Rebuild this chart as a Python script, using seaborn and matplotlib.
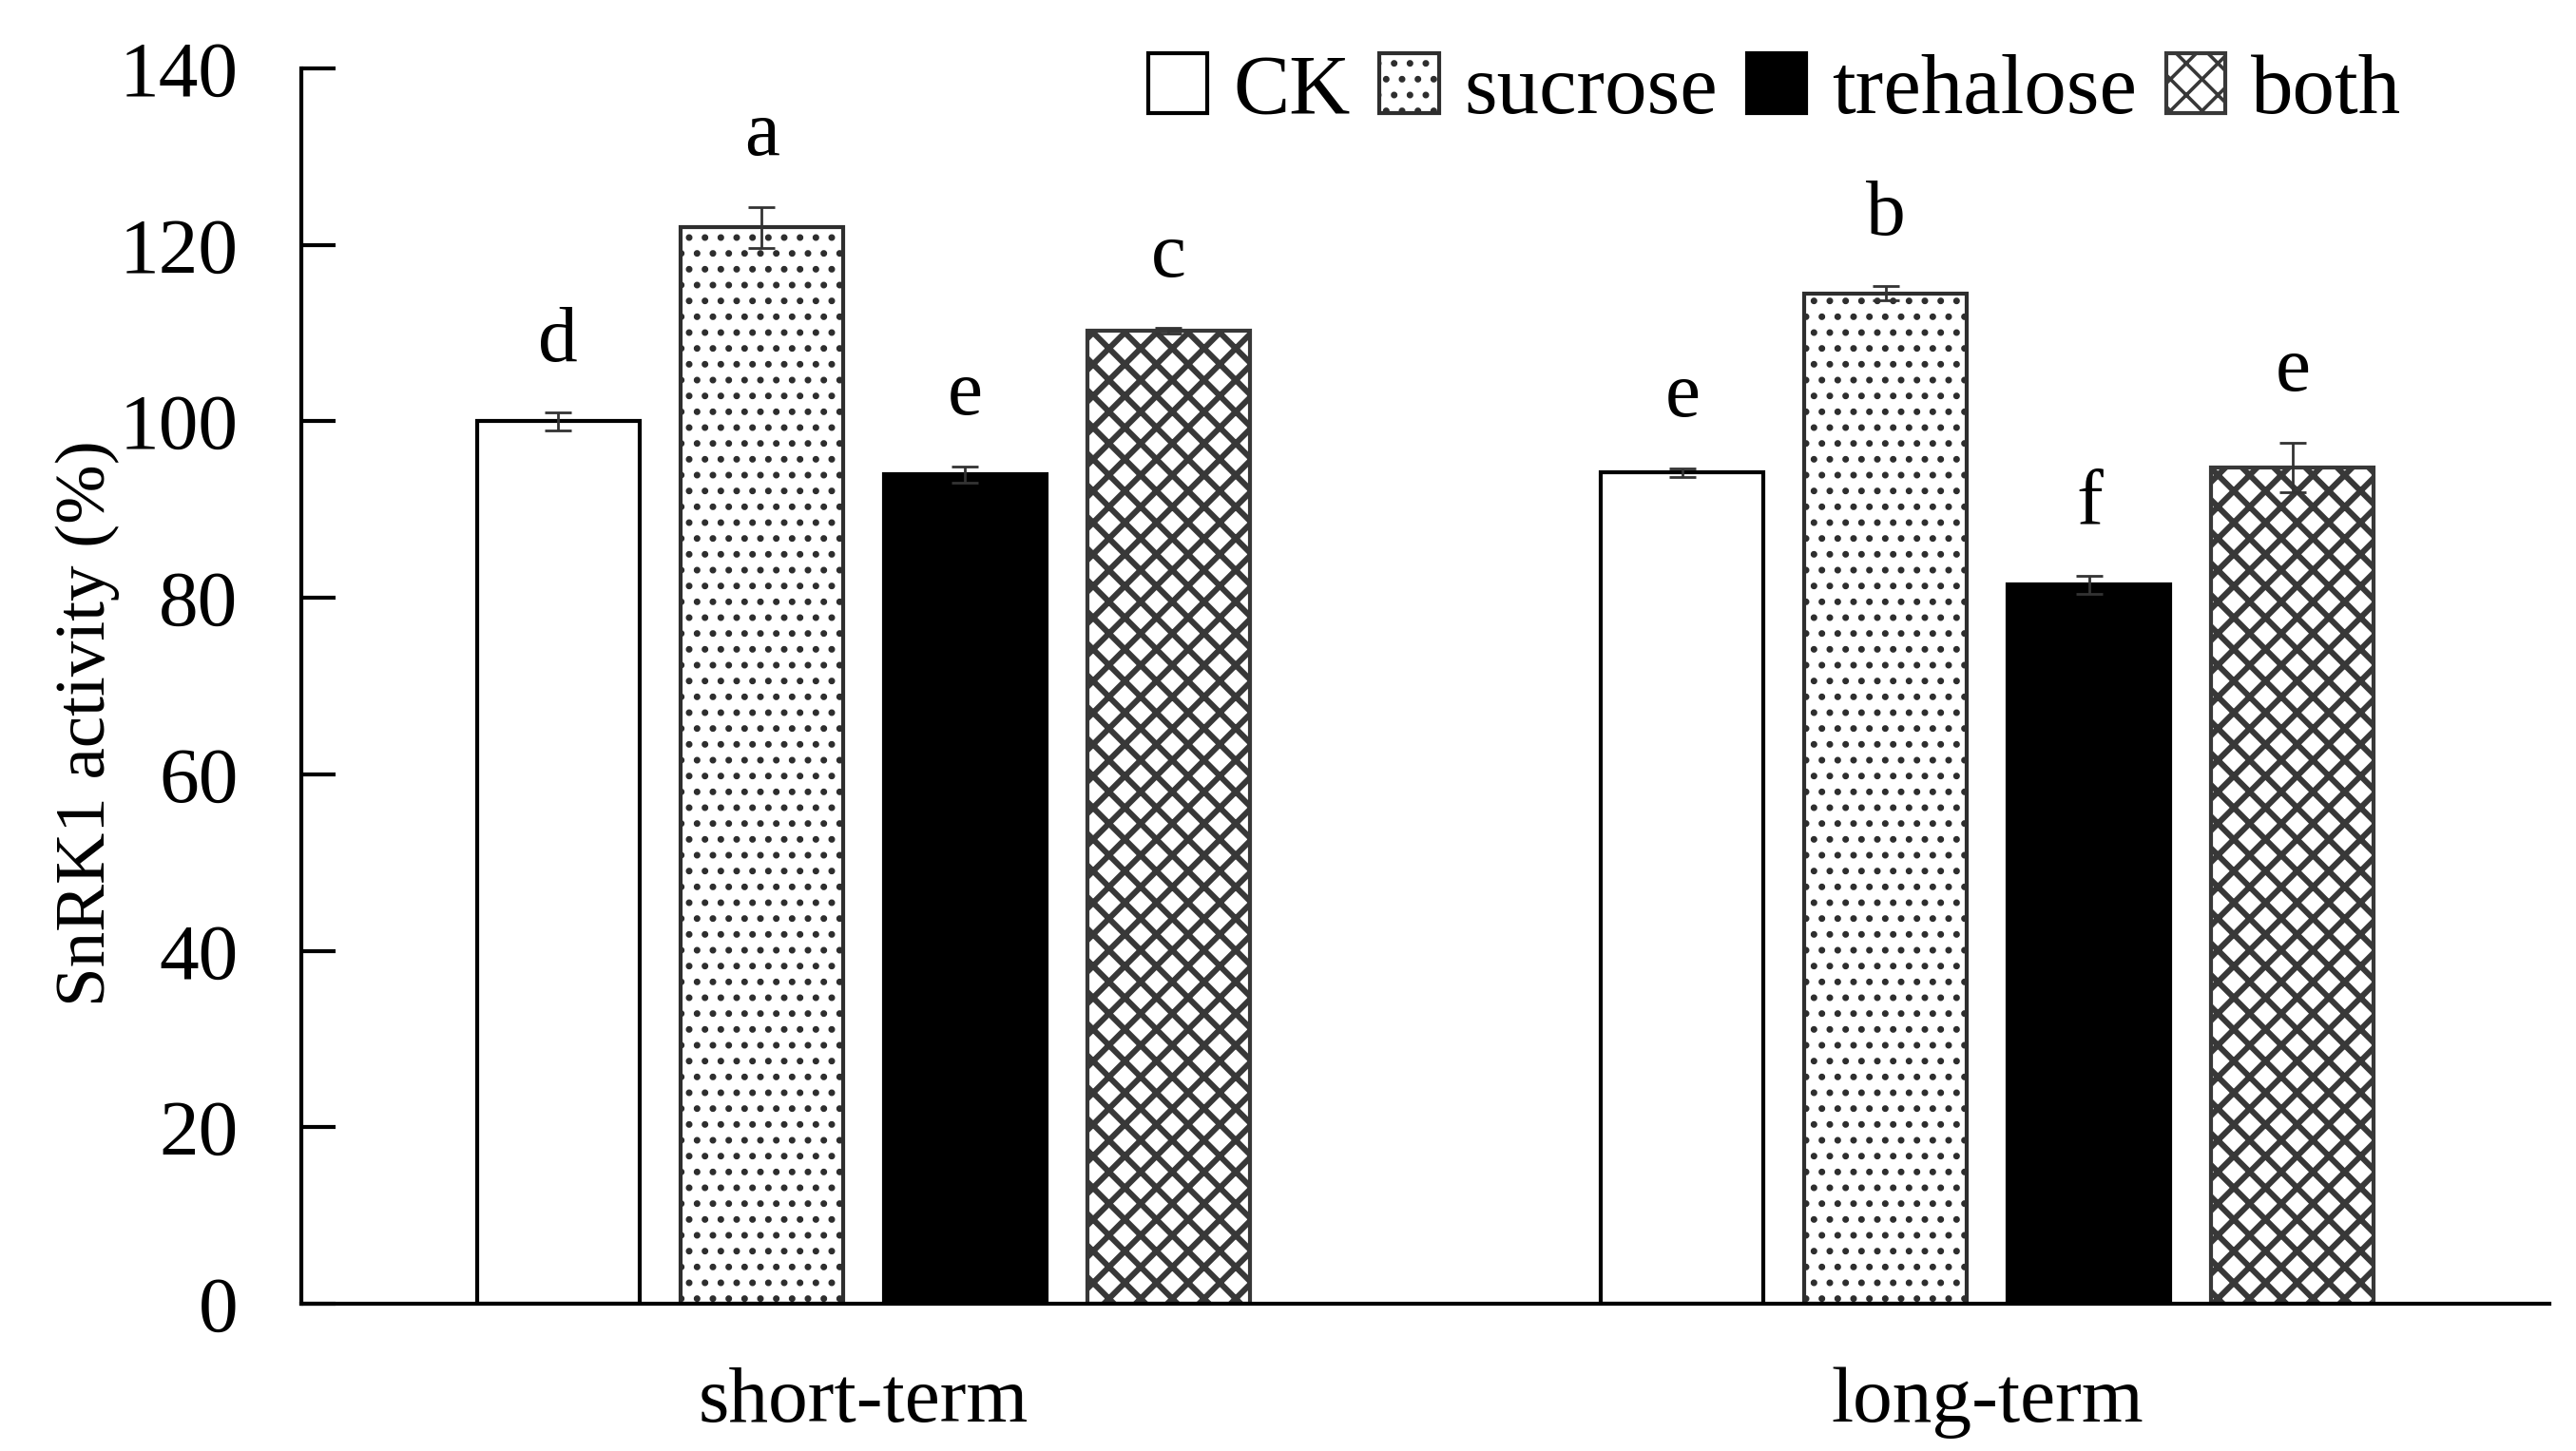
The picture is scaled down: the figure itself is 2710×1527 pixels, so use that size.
import pandas as pd
import seaborn as sns
import matplotlib.pyplot as plt
from matplotlib.patches import Patch

# data
terms = ["short-term", "long-term"]
treatments = ["CK", "sucrose", "trehalose", "both"]
values = {
    "CK": [100.0, 94.2],
    "sucrose": [122.0, 114.5],
    "trehalose": [94.0, 81.5],
    "both": [110.3, 94.8],
}
errors = {
    "CK": [1.0, 0.5],
    "sucrose": [2.3, 0.8],
    "trehalose": [0.9, 1.0],
    "both": [0.3, 2.8],
}
letters = {
    "CK": ["d", "e"],
    "sucrose": ["a", "b"],
    "trehalose": ["e", "f"],
    "both": ["c", "e"],
}
face_colors = ["white", "white", "black", "white"]
hatches = ["", ".", "", "x"]
hatch_widths = [2.0, 2.6, 2.0, 4.4]
edge_colors = ["black", "#2e2e2e", "black", "#383838"]

rows = []
for t in treatments:
    for i, term in enumerate(terms):
        rows.append({"term": term, "treatment": t, "value": values[t][i]})
df = pd.DataFrame(rows)

sns.set_style("ticks")
plt.rcParams["font.family"] = ["Liberation Serif", "DejaVu Serif"]
plt.rcParams["hatch.linewidth"] = 2.6
for key in ["text.color", "axes.labelcolor", "xtick.color", "ytick.color", "axes.edgecolor"]:
    plt.rcParams[key] = "black"

fig = plt.figure(figsize=(27.1, 15.27), dpi=100)
ax = fig.add_axes([0.117, 0.1015, 0.8727, 0.8513])

sns.barplot(
    data=df, x="term", y="value", hue="treatment",
    order=terms, hue_order=treatments, palette=face_colors,
    width=0.724, gap=0.2, errorbar=None, legend=False,
    edgecolor="black", linewidth=3, saturation=1, ax=ax,
)


def style_patch(p, k):
    p.set_hatch(hatches[k])
    p.set_edgecolor(edge_colors[k])
    if hasattr(p, "set_hatch_linewidth"):
        p.set_hatch_linewidth(hatch_widths[k])


# hatches, error bars and significance letters
bar_groups = list(ax.containers)
for k, cont in enumerate(bar_groups):
    t = treatments[k]
    for i, bar in enumerate(cont):
        style_patch(bar, k)
        cx = bar.get_x() + bar.get_width() / 2
        h = bar.get_height()
        err = errors[t][i]
        ax.errorbar(cx, h, yerr=err, fmt="none", ecolor="#333333",
                    elinewidth=2, capsize=10, capthick=2, zorder=5)
        ax.text(cx, h + err + 8, letters[t][i], ha="center", va="center",
                fontsize=60, color="black")

ax.set_ylim(0, 140)
ax.set_xlim(-0.5, 1.5)
ax.set_yticks(range(0, 141, 20))
ax.tick_params(axis="y", direction="in", length=26, width=3, labelsize=60, pad=48)
ax.tick_params(axis="x", length=0, labelsize=60, pad=48)
for s in ["left", "bottom"]:
    ax.spines[s].set_linewidth(3)
sns.despine(ax=ax)

ax.set_xlabel("")
ax.set_ylabel("SnRK1 activity (%)", fontsize=54)
ax.yaxis.set_label_coords(-0.081, 0.47)

handles = []
for k, c in enumerate(face_colors):
    hp = Patch(facecolor=c, linewidth=3)
    style_patch(hp, k)
    handles.append(hp)
fig.legend(handles, treatments, loc="center", bbox_to_anchor=(0.689, 0.9365),
           ncol=4, frameon=False, fontsize=64, handlelength=0.7,
           handleheight=0.7, handletextpad=0.3, columnspacing=0.35,
           borderaxespad=0)

fig.savefig("out.png", dpi=100)
